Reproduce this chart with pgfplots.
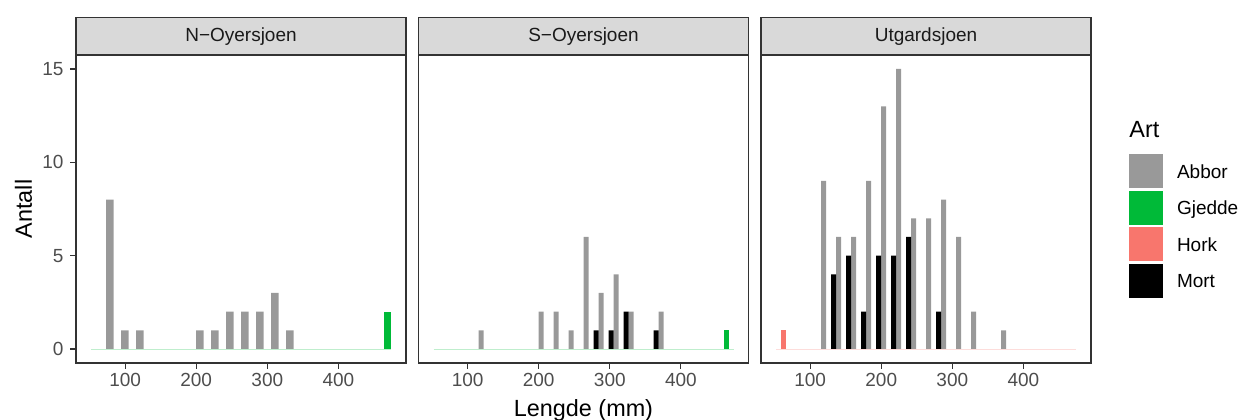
\documentclass[border=0pt]{standalone}
\usepackage{pgfplots}
\pgfplotsset{compat=1.18}
\usepackage{fontspec}
\setmainfont{Liberation Sans}
\definecolor{abbor}{HTML}{999999}
\definecolor{gjedde}{HTML}{00BA38}
\definecolor{hork}{HTML}{F8766D}
\definecolor{mort}{HTML}{000000}
\definecolor{grey20}{HTML}{333333}
\definecolor{grey30}{HTML}{4D4D4D}
\definecolor{grey10}{HTML}{1A1A1A}
\definecolor{stripbg}{HTML}{D9D9D9}
\newcommand{\smallfont}{\fontsize{9.5bp}{11bp}\selectfont}
\newcommand{\titlefont}{\fontsize{11.7bp}{13bp}\selectfont}
\pgfplotsset{
  panel/.style={
    scale only axis, width=165bp, height=154bp,
    anchor=south west,
    xmin=30.9, xmax=495.1, ymin=-0.75, ymax=15.75,
    axis line style={grey20, line width=0.6bp},
    every tick/.style={grey20, line width=0.6bp},
    major tick length=2.75bp, tick align=outside,
    xtick={100,200,300,400}, ytick={0,5,10,15},
    xtick pos=lower, ytick pos=left,
    tick label style={font=\smallfont, text=grey30},
    /pgf/number format/assume math mode=true,
    xticklabel style={inner sep=0pt, yshift=-2.1bp},
    yticklabel style={inner sep=0pt, xshift=-3.35bp},
    every axis title/.style={at={(axis description cs:0.5,1)}, anchor=south, yshift=0pt, fill=stripbg, draw=grey20, line width=0.6bp, minimum width=165bp, minimum height=18.3bp, inner sep=0pt, text=grey10, font=\smallfont},
    every axis y label/.style={at={(axis description cs:-0.159,0.5)}, rotate=90, anchor=center, font=\titlefont},
    every axis x label/.style={at={(axis description cs:0.5,-0.1744)}, anchor=base, font=\titlefont},
    clip=false,
  },
  sqkey/.style={legend image code/.code={\fill (0bp,-8.5bp) rectangle (17bp,8.5bp);}},
}
\begin{document}
\begin{tikzpicture}
% ---------------- N-Oyersjoen ----------------
\begin{axis}[panel, at={(38bp,28.5bp)}, title={N−Oyersjoen}, ylabel={Antall}]
\addplot[gjedde!25, line width=0.4bp, forget plot] coordinates {(52,0) (474,0)};
\addplot[ybar, bar width=10.55, bar shift=0pt, fill=abbor, draw=none] coordinates {
 (78.38,8) (99.48,1) (120.58,1) (204.98,1) (226.08,1) (247.18,2) (268.28,2) (289.38,2) (310.48,3) (331.58,1)};
\addplot[ybar, bar width=10.55, bar shift=0pt, fill=gjedde, draw=none] coordinates {(468.73,2)};
\end{axis}
% ---------------- S-Oyersjoen ----------------
\begin{axis}[panel, at={(209.25bp,28.5bp)}, title={S−Oyersjoen}, ytick=\empty, xlabel={Lengde (mm)}]
\addplot[gjedde!25, line width=0.4bp, forget plot] coordinates {(52,0) (474,0)};
\addplot[ybar, bar width=7.03, bar shift=0pt, fill=abbor, draw=none] coordinates {
 (118.82,1) (203.22,2) (224.32,2) (245.42,1) (266.52,6) (287.62,3) (308.72,4) (329.82,2) (372.02,2)};
\addplot[ybar, bar width=7.03, bar shift=0pt, fill=gjedde, draw=none] coordinates {(463.45,1)};
\addplot[ybar, bar width=7.03, bar shift=0pt, fill=mort, draw=none] coordinates {
 (280.58,1) (301.68,1) (322.78,2) (364.98,1)};
\end{axis}
% ---------------- Utgardsjoen ----------------
\begin{axis}[panel, at={(380.5bp,28.5bp)}, title={Utgardsjoen}, ytick=\empty,
  legend style={at={(axis description cs:1.1152,0.6818)}, anchor=north west, draw=none, fill=none,
    inner sep=0pt, outer sep=0pt, row sep=0pt, /tikz/column sep=7bp,
    nodes={inner sep=0pt, minimum height=18.25bp, text height=6.8bp, text depth=0pt, font=\smallfont, text=black}},
  legend cell align=left]
\addplot[hork!25, line width=0.4bp, forget plot] coordinates {(52,0) (474,0)};
\addplot[ybar, bar width=7.03, bar shift=0pt, fill=abbor, draw=none, forget plot] coordinates {
 (118.82,9) (139.92,6) (161.02,6) (182.12,9) (203.22,13) (224.32,15) (245.42,7) (266.52,7) (287.62,8) (308.72,6) (329.82,2) (372.02,1)};
\addplot[ybar, bar width=7.03, bar shift=0pt, fill=hork, draw=none, forget plot] coordinates {(62.55,1)};
\addplot[ybar, bar width=7.03, bar shift=0pt, fill=mort, draw=none, forget plot] coordinates {
 (132.88,4) (153.98,5) (175.08,2) (196.18,5) (217.28,5) (238.38,6) (280.58,2)};
\addlegendimage{sqkey, fill=abbor, draw=none}
\addlegendimage{sqkey, fill=gjedde, draw=none}
\addlegendimage{sqkey, fill=hork, draw=none}
\addlegendimage{sqkey, fill=mort, draw=none}
\legend{Abbor,Gjedde,Hork,Mort}
\node[anchor=west, inner sep=0pt, font=\titlefont] at (axis description cs:1.1152,0.7565) {Art};
\end{axis}
\pgfresetboundingbox
\useasboundingbox (0,0) rectangle (619.5bp,210bp);
\end{tikzpicture}
\end{document}
